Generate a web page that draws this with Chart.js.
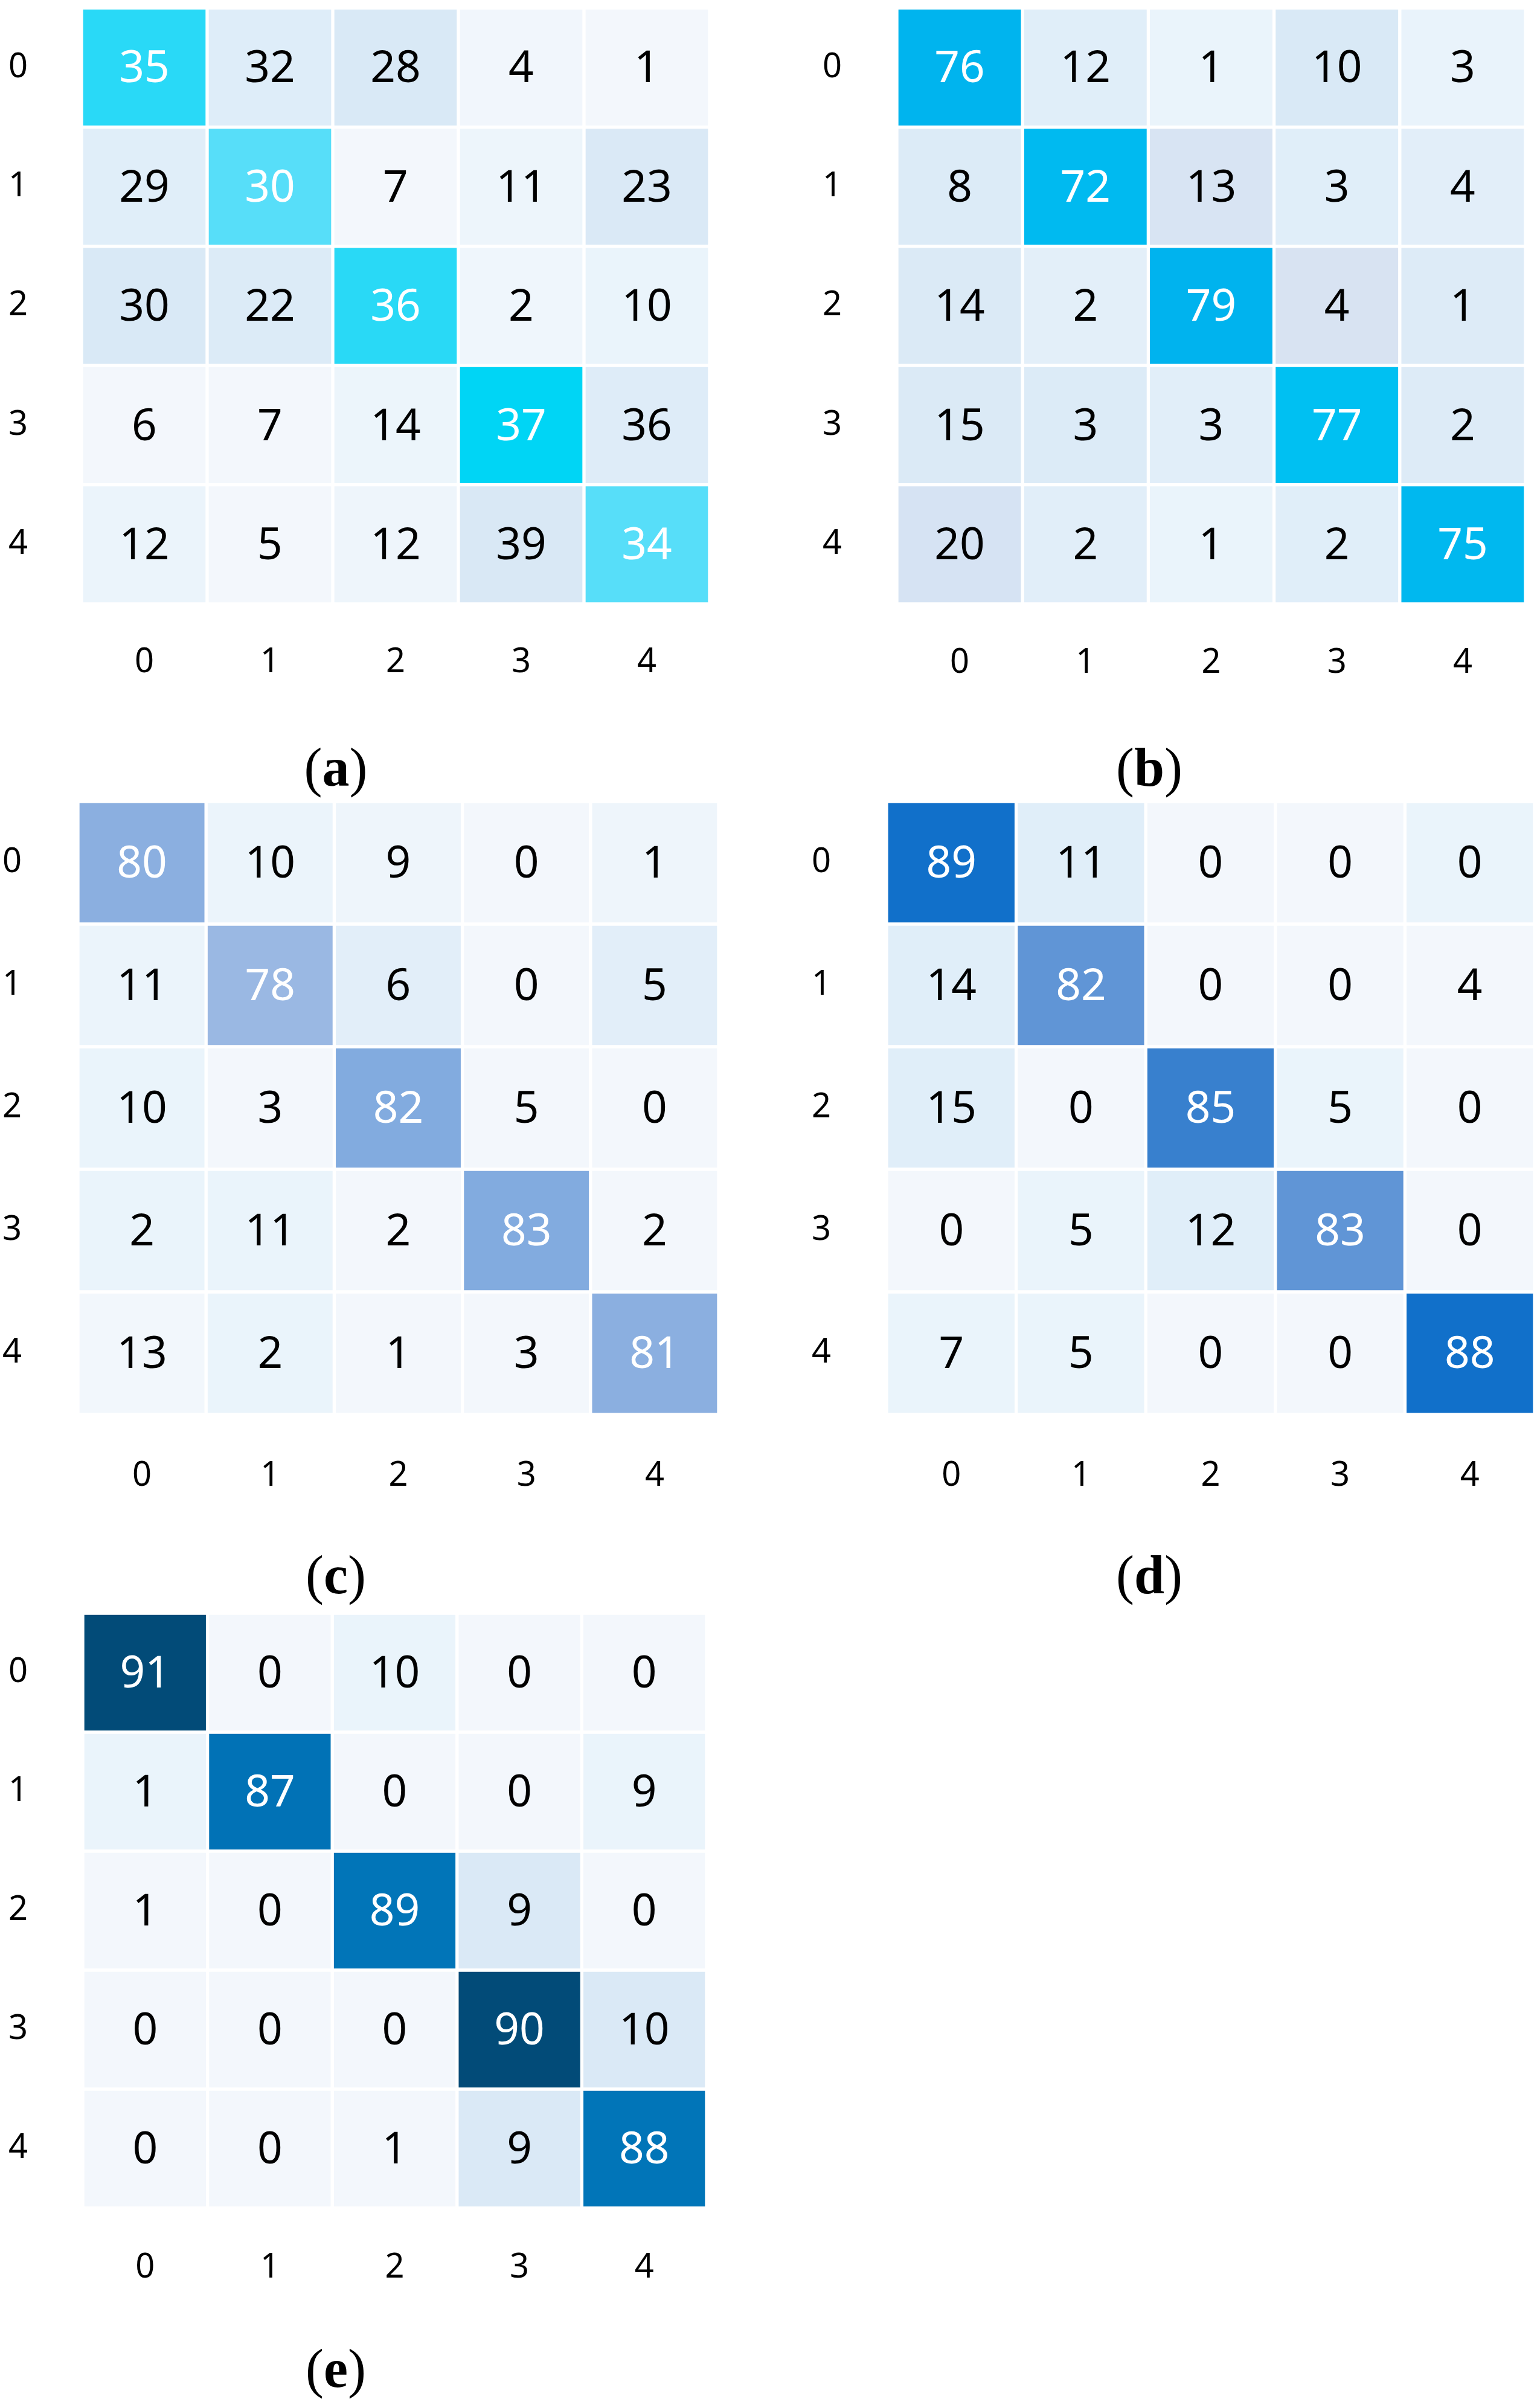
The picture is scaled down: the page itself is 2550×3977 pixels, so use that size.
<!DOCTYPE html>
<html lang="en">
<head>
<meta charset="UTF-8">
<title>Confusion matrices (a)-(e)</title>
<style>
  body { margin: 0; background: #fff; width: 2550px; height: 3977px; position: relative; overflow: hidden; }
  .panel { position: absolute; }
  .caption {
    position: absolute;
    font-family: "Liberation Serif", "DejaVu Serif", serif;
    font-size: 90px;
    line-height: 1;
    color: #000;
    white-space: nowrap;
    transform: translate(-50%, -50%);
  }
</style>
</head>
<body>
<script src="https://cdn.jsdelivr.net/npm/chart.js"></script>
<script>
// class labels, same on both axes
const classLabels = ['0', '1', '2', '3', '4'];

// confusion matrices, rows = true class, columns = predicted class
const matrixA = [
  [35, 32, 28, 4, 1],
  [29, 30, 7, 11, 23],
  [30, 22, 36, 2, 10],
  [6, 7, 14, 37, 36],
  [12, 5, 12, 39, 34]
];
const matrixB = [
  [76, 12, 1, 10, 3],
  [8, 72, 13, 3, 4],
  [14, 2, 79, 4, 1],
  [15, 3, 3, 77, 2],
  [20, 2, 1, 2, 75]
];
const matrixC = [
  [80, 10, 9, 0, 1],
  [11, 78, 6, 0, 5],
  [10, 3, 82, 5, 0],
  [2, 11, 2, 83, 2],
  [13, 2, 1, 3, 81]
];
const matrixD = [
  [89, 11, 0, 0, 0],
  [14, 82, 0, 0, 4],
  [15, 0, 85, 5, 0],
  [0, 5, 12, 83, 0],
  [7, 5, 0, 0, 88]
];
const matrixE = [
  [91, 0, 10, 0, 0],
  [1, 87, 0, 0, 9],
  [1, 0, 89, 9, 0],
  [0, 0, 0, 90, 10],
  [0, 0, 1, 9, 88]
];

// cell fill colours (style only, same layout as the matrices)
const colorsA = [
  ['#29D9F7', '#DEEDF9', '#D9E9F6', '#F1F6FC', '#F3F7FC'],
  ['#E0EEF9', '#57DEF9', '#F3F7FC', '#EDF5FB', '#DAE9F6'],
  ['#D9E9F6', '#DCEBF7', '#29D9F6', '#EFF6FC', '#EAF4FB'],
  ['#F3F7FC', '#F3F7FC', '#ECF5FB', '#00D5F5', '#DEECF8'],
  ['#EBF4FB', '#F3F7FC', '#EEF5FB', '#D9E8F5', '#57DEF9']
];
const colorsB = [
  ['#00B4EE', '#E0EEF9', '#EAF4FB', '#D9E9F6', '#E9F3FB'],
  ['#DCEBF7', '#00BAF0', '#D8E4F3', '#E0EEF9', '#E2EEF9'],
  ['#DBEAF6', '#E3EFF9', '#00B3EE', '#D8E3F2', '#DDEBF7'],
  ['#DBEAF6', '#DCEBF7', '#E1EEF9', '#00C0F2', '#DDEBF7'],
  ['#D6E3F3', '#E1EEF9', '#EAF4FB', '#E0EEF9', '#00B8EF']
];
const colorsC = [
  ['#8BAFE0', '#EBF4FB', '#EEF5FB', '#F3F7FC', '#EEF5FB'],
  ['#EBF4FB', '#9AB8E3', '#E2EEF9', '#F3F7FC', '#E2EEF9'],
  ['#EAF4FB', '#F3F7FC', '#82ABDF', '#F3F7FC', '#F3F7FC'],
  ['#EAF4FB', '#EAF4FB', '#F3F7FC', '#82ABDF', '#F3F7FC'],
  ['#F2F7FC', '#EAF4FB', '#F3F7FC', '#F3F7FC', '#8BAFE0']
];
const colorsD = [
  ['#1170CA', '#E0EEF9', '#F3F7FC', '#F3F7FC', '#EAF4FB'],
  ['#E0EEF9', '#6095D6', '#F3F7FC', '#F3F7FC', '#F3F7FC'],
  ['#E0EEF9', '#F3F7FC', '#3880CE', '#EAF4FB', '#F3F7FC'],
  ['#F3F7FC', '#EAF4FB', '#E0EEF9', '#6095D6', '#F3F7FC'],
  ['#EAF4FB', '#EAF4FB', '#F3F7FC', '#F3F7FC', '#1170CA']
];
const colorsE = [
  ['#024B78', '#F3F7FC', '#EAF4FB', '#F3F7FC', '#F3F7FC'],
  ['#EAF4FB', '#0172B6', '#F3F7FC', '#F3F7FC', '#EAF4FB'],
  ['#F3F7FC', '#F3F7FC', '#0175B8', '#DAE9F6', '#F3F7FC'],
  ['#F3F7FC', '#F3F7FC', '#F3F7FC', '#024B78', '#DAE9F6'],
  ['#F3F7FC', '#F3F7FC', '#F3F7FC', '#DAE9F6', '#0175B8']
];

// where each matrix sits on the page: cell block [left, top, right, bottom],
// centre of the row labels (x), centre of the column labels (y), caption centre
const panels = [
  { tag: 'a', matrix: matrixA, colors: colorsA, cells: [138, 16, 1172, 997], tickX: 30, tickY: 1099, cap: [556, 1276], canvasLeft: 0 },
  { tag: 'b', matrix: matrixB, colors: colorsB, cells: [1488, 16, 2523, 997], tickX: 1378, tickY: 1100, cap: [1903, 1276], canvasLeft: 1290 },
  { tag: 'c', matrix: matrixC, colors: colorsC, cells: [132, 1330, 1187, 2339], tickX: 20, tickY: 2446, cap: [556, 2613], canvasLeft: 0 },
  { tag: 'd', matrix: matrixD, colors: colorsD, cells: [1471, 1330, 2538, 2339], tickX: 1360, tickY: 2446, cap: [1903, 2613], canvasLeft: 1290 },
  { tag: 'e', matrix: matrixE, colors: colorsE, cells: [140, 2674, 1167, 3653], tickX: 30, tickY: 3757, cap: [556, 3927], canvasLeft: 0 }
];

const GAP = 3;          // white border drawn inside each cell
const VALUE_FONT = 73;
const TICK_FONT = 56;
const SANS = '"Noto Sans", "Open Sans", "DejaVu Sans", sans-serif';

// writes the count in the middle of every cell
const cellText = {
  id: 'cellText',
  afterDatasetsDraw(chart, args, opts) {
    const ctx = chart.ctx;
    ctx.save();
    ctx.font = VALUE_FONT + 'px ' + SANS;
    ctx.textAlign = 'center';
    ctx.textBaseline = 'middle';
    chart.data.datasets.forEach((ds, r) => {
      chart.getDatasetMeta(r).data.forEach((bar, c) => {
        ctx.fillStyle = r === c ? '#ffffff' : '#000000';
        ctx.fillText(String(opts.matrix[r][c]), bar.x, (bar.y + bar.base) / 2 + 4);
      });
    });
    ctx.restore();
  }
};

function makePanel(p) {
  const areaLeft = p.cells[0] - GAP;
  const areaTop = p.cells[1] - GAP;
  const areaRight = p.cells[2] + GAP;
  const areaBottom = p.cells[3] + GAP;
  const canvasBottom = p.tickY + 60;

  const box = document.createElement('div');
  box.className = 'panel';
  box.style.left = p.canvasLeft + 'px';
  box.style.top = areaTop + 'px';
  box.style.width = (areaRight - p.canvasLeft) + 'px';
  box.style.height = (canvasBottom - areaTop) + 'px';
  const canvas = document.createElement('canvas');
  box.appendChild(canvas);
  document.body.appendChild(box);

  const yWidth = areaLeft - p.canvasLeft;
  const xHeight = canvasBottom - areaBottom;

  // one stacked dataset per row, every cell one unit tall
  const datasets = p.matrix.map((row, r) => ({
    label: classLabels[r],
    data: row.map(() => 1),
    backgroundColor: p.colors[r],
    borderColor: '#ffffff',
    borderWidth: GAP,
    borderSkipped: false,
    barPercentage: 1,
    categoryPercentage: 1
  }));

  new Chart(canvas, {
    type: 'bar',
    data: { labels: classLabels, datasets: datasets },
    plugins: [cellText],
    options: {
      responsive: true,
      maintainAspectRatio: false,
      animation: false,
      devicePixelRatio: 1,
      layout: { padding: 0 },
      plugins: {
        legend: { display: false },
        tooltip: { enabled: false },
        cellText: { matrix: p.matrix }
      },
      scales: {
        x: {
          stacked: true,
          grid: { display: false, drawTicks: false },
          border: { display: false },
          ticks: {
            color: '#000',
            font: { family: SANS, size: TICK_FONT },
            padding: p.tickY - areaBottom - TICK_FONT * 0.6 - 2
          },
          afterFit(scale) {
            scale.height = xHeight;
            scale.paddingLeft = 0; scale.paddingRight = 0;
            scale.paddingTop = 0; scale.paddingBottom = 0;
          }
        },
        y: {
          stacked: true,
          reverse: true,
          min: 0,
          max: classLabels.length,
          grid: { display: false, drawTicks: false },
          border: { display: false },
          afterBuildTicks(scale) {
            scale.ticks = classLabels.map((l, i) => ({ value: i + 0.5 }));
          },
          ticks: {
            color: '#000',
            crossAlign: 'center',
            font: { family: SANS, size: TICK_FONT },
            padding: areaLeft - p.tickX - 16,
            callback: (v) => classLabels[Math.floor(v)]
          },
          afterFit(scale) {
            scale.width = yWidth;
            scale.paddingLeft = 0; scale.paddingRight = 0;
            scale.paddingTop = 0; scale.paddingBottom = 0;
          }
        }
      }
    }
  });

  const cap = document.createElement('div');
  cap.className = 'caption';
  cap.style.left = p.cap[0] + 'px';
  cap.style.top = (p.cap[1] - 5) + 'px';
  cap.innerHTML = '(<b>' + p.tag + '</b>)';
  document.body.appendChild(cap);
}

panels.forEach(makePanel);
</script>
</body>
</html>
